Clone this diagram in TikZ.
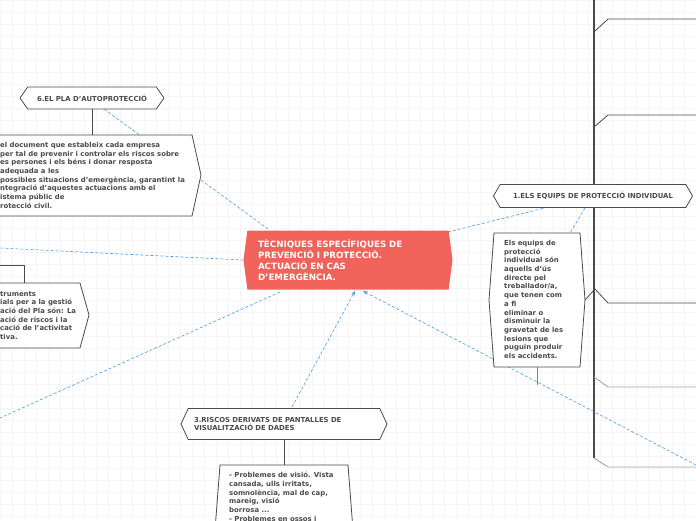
\documentclass[tikz,border=0pt]{standalone}
\usepackage{fontspec}
\setmainfont{DejaVu Sans}
\usetikzlibrary{shapes.symbols,arrows.meta}
\definecolor{cred}{HTML}{F0625A}
\definecolor{cblue}{HTML}{4A9BE8}
\definecolor{cdark}{HTML}{4A4A4A}
\tikzset{
 hexbox/.style={signal, signal to=east and west, draw=cdark, fill=white, line width=0.8pt, font=\bfseries\fontsize{6.9}{8.7}\selectfont, text=cdark, align=left, inner xsep=4pt},
 rel/.style={cblue, dashed, dash pattern=on 3pt off 2pt, line width=0.6pt},
 tree/.style={cdark, line width=0.8pt},
 lighttree/.style={gray!70, line width=0.9pt},
 txt/.style={font=\bfseries\fontsize{6.9}{8.7}\selectfont, text=cdark, align=left, inner sep=0pt}
}
\begin{document}
\begin{tikzpicture}[x=1pt,y=-1pt]
\useasboundingbox (0,0) rectangle (696,520);
\fill[white] (0,0) rectangle (696,520);
\draw[gray!8, line width=0.4pt, step=12pt] (0,0) grid (696,520);
% right trunk
\draw[cdark, line width=2.4pt] (594,0) -- (594,458);
\draw[tree] (594,32) -- (608,19) -- (696,19);
\draw[tree] (594,127) -- (608,115) -- (696,115);
\draw[tree] (594,288) -- (608,303) -- (696,303);
\draw[lighttree] (594,377) -- (608,387) -- (696,387);
\draw[lighttree] (594,458) -- (608,467) -- (696,467);
% central
\node[signal, signal to=east and west, signal pointer angle=165, fill=cred, text=white, minimum width=209pt, minimum height=59pt, font=\bfseries\fontsize{8.7}{11}\selectfont, align=left, text width=180pt] (c) at (348,260) {TÈCNIQUES ESPECÍFIQUES DE\\PREVENCIÓ I PROTECCIÓ.\\ACTUACIÓ EN CAS\\D'EMERGÈNCIA.};
% 6
\node[hexbox, minimum width=144pt, minimum height=22pt, signal pointer angle=110] (p6) at (92,98) {6.EL PLA D'AUTOPROTECCIÓ};
\coordinate (p6b) at (104,109);
\draw[rel] (268,229) -- (p6b);
\draw[tree, fill=white] (-5,135) -- (192,135) -- (201,175) -- (192,216) -- (-5,216) -- cycle;
\draw[tree] (92,109) -- (92,135);
\node[txt, anchor=north west] (p6t) at (0,142) {el document que estableix cada empresa\\per tal de prevenir i controlar els riscos sobre\\es persones i els béns i donar resposta\\adequada a les\\possibles situacions d'emergència, garantint la\\ntegració d'aquestes actuacions amb el\\istema públic de\\rotecció civil.};
% left middle
\draw[tree] (0,265) -- (24,265) -- (24,283);
\draw[tree, fill=white] (-5,283) -- (80,283) -- (89,315) -- (80,348) -- (-5,348) -- cycle;
\node[txt, anchor=north west] (lm) at (0,291) {truments\\ials per a la gestió\\ació del Pla són: La\\ació de riscos i la\\cació de l'activitat\\tiva.};
\coordinate (e1) at (0,248);
\coordinate (e2) at (0,418);
\draw[rel] (c.west) -- (e1);
\draw[rel] (280,292) -- (e2);
% 3
\node[hexbox, minimum width=206pt, minimum height=31pt, signal pointer angle=130, text width=180pt] (s3) at (284,424) {3.RISCOS DERIVATS DE PANTALLES DE\\VISUALITZACIÓ DE DADES};
\draw[rel, -{Stealth[length=5pt]}] (292,407) -- (355,291);
\draw[tree] (284,439) -- (284,465);
\draw[tree, fill=white] (220,465) -- (348,465) -- (353,530) -- (215,530) -- cycle;
\node[txt, anchor=north west] (s3t) at (229,472) {- Problemes de visió. Vista\\cansada, ulls irritats,\\somnolència, mal de cap,\\mareig, visió\\borrosa ...\\- Problemes en ossos i};
\coordinate (e3) at (696,465);
\draw[rel, -{Stealth[length=5pt]}] (e3) -- (363,291);
% 1
\node[hexbox, minimum width=199pt, minimum height=23pt, signal pointer angle=120] (e1n) at (593,196) {1.ELS EQUIPS DE PROTECCIÓ INDIVIDUAL};
\draw[rel] (448,232) -- (e1n);
\draw[tree, fill=white] (494,233) -- (580,233) -- (585,300) -- (580,367) -- (494,367) -- (489,300) -- cycle;
\node[txt, anchor=north west] (e1t) at (504,240) {Els equips de\\protecció\\individual són\\aquells d'ús\\directe pel\\treballador/a,\\que tenen com\\a fi\\eliminar o\\disminuir la\\gravetat de les\\lesions que\\puguin produir\\els accidents.};
\draw[rel] (585,208) -- (570,233);
\draw[tree] (585,300) -- (594,290);
\draw[gray, line width=0.6pt] (537,367) -- (537,385);
\end{tikzpicture}
\end{document}
